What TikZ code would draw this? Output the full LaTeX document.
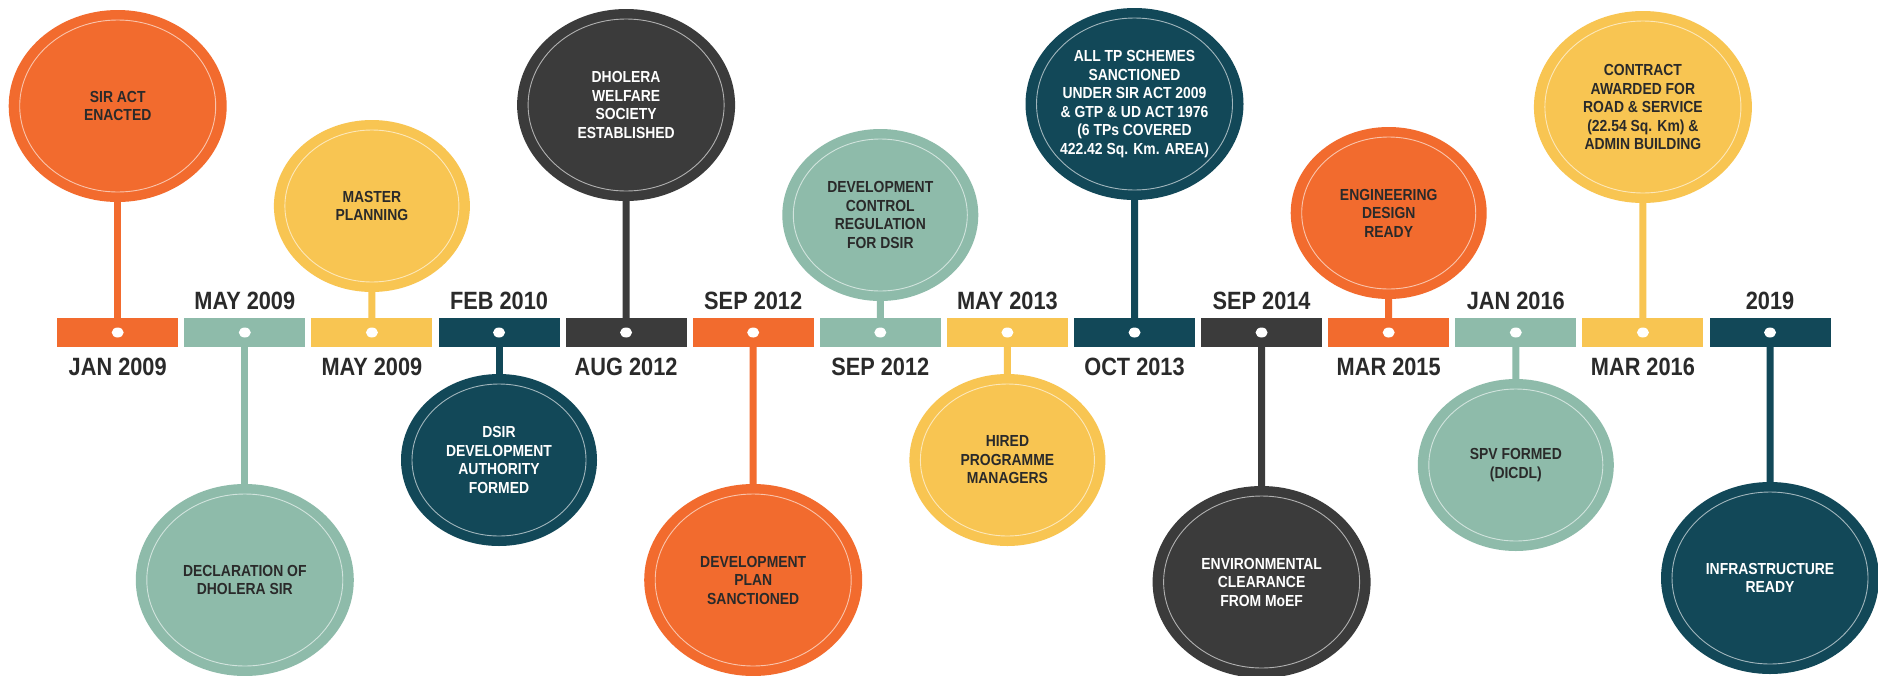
\documentclass[tikz,border=0pt]{standalone}
\usepackage{fontspec}
\setmainfont{Liberation Sans}[FakeStretch=0.87]
\usetikzlibrary{shapes.geometric,backgrounds}
\definecolor{cOr}{RGB}{242,107,46}
\definecolor{cSg}{RGB}{142,187,170}
\definecolor{cYl}{RGB}{248,197,82}
\definecolor{cTl}{RGB}{18,72,88}
\definecolor{cDk}{RGB}{59,59,59}
\definecolor{cTx}{RGB}{42,42,42}
\begin{document}
\begin{tikzpicture}[x=1pt,y=-1pt,
  bar/.style={rectangle, minimum width=121pt, minimum height=29pt, inner sep=0pt, fill=#1},
  bub/.style={ellipse, inner sep=0pt, fill=#1, align=center,
    font=\fontsize{16}{18.5}\selectfont\bfseries},
  big/.style={minimum width=218pt, minimum height=192pt},
  small/.style={minimum width=196pt, minimum height=172pt},
  dark/.style={text=cTx},
  light/.style={text=white},
  dlabel/.style={font=\fontsize{25}{28}\selectfont\bfseries, text=cTx, inner sep=0pt},
  stem/.style={line width=7pt, draw=#1},
  ringbig/.style={draw=white, draw opacity=0.6, line width=0.9pt, x radius=98, y radius=86},
  ringsmall/.style={draw=white, draw opacity=0.6, line width=0.9pt, x radius=87, y radius=76},
]
\useasboundingbox (0,0) rectangle (1878,675);

% timeline bars
\foreach \i/\c in {1/cOr,2/cSg,3/cYl,4/cTl,5/cDk,6/cOr,7/cSg,8/cYl,9/cTl,10/cDk,11/cOr,12/cSg,13/cYl,14/cTl}{
  \node[bar=\c] (b\i) at ({117.7+127.1*(\i-1)},332.5) {};
}

% event bubbles
\node[bub=cOr, big, dark]   (c1)  at (117.7,106) {SIR ACT\\ENACTED};
\node[bub=cSg, big, dark]   (c2)  at (244.8,580) {DECLARATION OF\\DHOLERA SIR};
\node[bub=cYl, small, dark] (c3)  at (371.9,206) {MASTER\\PLANNING};
\node[bub=cTl, small, light](c4)  at (499.0,460) {DSIR\\DEVELOPMENT\\AUTHORITY\\FORMED};
\node[bub=cDk, big, light]  (c5)  at (626.1,105) {DHOLERA\\WELFARE\\SOCIETY\\ESTABLISHED};
\node[bub=cOr, big, dark]   (c6)  at (753.2,580) {DEVELOPMENT\\PLAN\\SANCTIONED};
\node[bub=cSg, small, dark] (c7)  at (880.3,215) {DEVELOPMENT\\CONTROL\\REGULATION\\FOR DSIR};
\node[bub=cYl, small, dark] (c8)  at (1007.4,460) {HIRED\\PROGRAMME\\MANAGERS};
\node[bub=cTl, big, light]  (c9)  at (1134.5,104) {ALL TP SCHEMES\\SANCTIONED\\UNDER SIR ACT 2009\\\& GTP \& UD ACT 1976\\(6 TPs COVERED\\422.42 Sq. Km. AREA)};
\node[bub=cDk, big, light]  (c10) at (1261.6,582) {ENVIRONMENTAL\\CLEARANCE\\FROM MoEF};
\node[bub=cOr, small, dark] (c11) at (1388.7,213) {ENGINEERING\\DESIGN\\READY};
\node[bub=cSg, small, dark] (c12) at (1515.8,465) {SPV FORMED\\(DICDL)};
\node[bub=cYl, big, dark]   (c13) at (1642.9,107) {CONTRACT\\AWARDED FOR\\ROAD \& SERVICE\\(22.54 Sq. Km) \&\\ADMIN BUILDING};
\node[bub=cTl, big, light]  (c14) at (1770.0,578) {INFRASTRUCTURE\\READY};

% inner rings
\foreach \n in {1,2,5,6,9,10,13,14}{ \draw[ringbig] (c\n.center) ellipse []; }
\foreach \n in {3,4,7,8,11,12}{ \draw[ringsmall] (c\n.center) ellipse []; }

% white dots on bars
\foreach \i in {1,...,14}{ \fill[white] (b\i.center) ellipse [x radius=6, y radius=5]; }

% date labels
\node[dlabel] (d1)  at (117.7,367)  {JAN 2009};
\node[dlabel] (d2)  at (244.8,301)  {MAY 2009};
\node[dlabel] (d3)  at (371.9,367)  {MAY 2009};
\node[dlabel] (d4)  at (499.0,301)  {FEB 2010};
\node[dlabel] (d5)  at (626.1,367)  {AUG 2012};
\node[dlabel] (d6)  at (753.2,301)  {SEP 2012};
\node[dlabel] (d7)  at (880.3,367)  {SEP 2012};
\node[dlabel] (d8)  at (1007.4,301) {MAY 2013};
\node[dlabel] (d9)  at (1134.5,367) {OCT 2013};
\node[dlabel] (d10) at (1261.6,301) {SEP 2014};
\node[dlabel] (d11) at (1388.7,367) {MAR 2015};
\node[dlabel] (d12) at (1515.8,301) {JAN 2016};
\node[dlabel] (d13) at (1642.9,367) {MAR 2016};
\node[dlabel] (d14) at (1770.0,301) {2019};

% stems behind everything
\begin{pgfonlayer}{background}
  \fill[white] (0,0) rectangle (1878,675);
  \foreach \i/\c in {1/cOr,2/cSg,3/cYl,4/cTl,5/cDk,6/cOr,7/cSg,8/cYl,9/cTl,10/cDk,11/cOr,12/cSg,13/cYl,14/cTl}{
    \draw[stem=\c] (c\i.center) -- (b\i.center);
  }
\end{pgfonlayer}
\end{tikzpicture}
\end{document}
